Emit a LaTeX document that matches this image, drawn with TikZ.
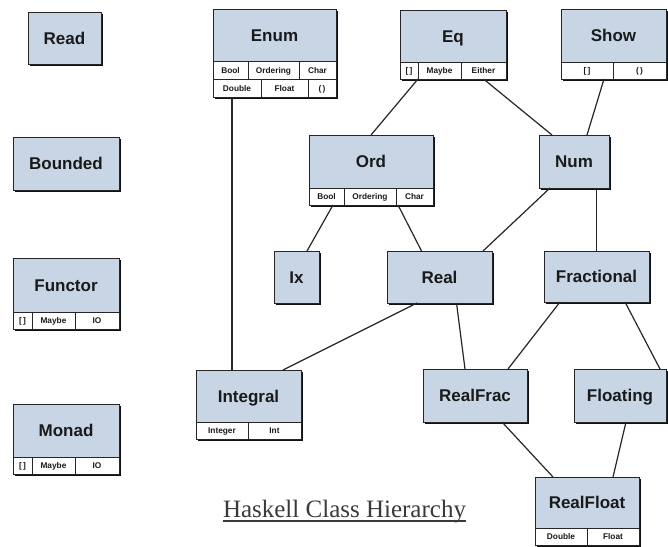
\documentclass[tikz,border=0pt]{standalone}
\usepackage{fontspec}
\setsansfont{Liberation Sans}
\setmainfont{Liberation Serif}
\definecolor{boxc}{HTML}{C8D5E5}
\definecolor{linec}{HTML}{262626}
\definecolor{shadc}{HTML}{111111}
\definecolor{txtc}{HTML}{1A1A1A}
\definecolor{titc}{HTML}{3A3A3A}
\tikzset{
  cls/.style={draw=linec, fill=boxc, line width=0.8pt, inner sep=0pt, outer sep=0pt,
    text height=12.2pt, text depth=0pt,
    font=\fontsize{17}{19}\selectfont\sffamily\bfseries, text=txtc},
  sub/.style={draw=linec, fill=white, line width=0.8pt, inner sep=0pt, outer sep=0pt,
    text height=6pt, text depth=0pt,
    font=\fontsize{8.3}{9}\selectfont\sffamily\bfseries, text=txtc},
  conn/.style={draw=linec, line width=1.2pt},
}
\newcommand\boxshadow[4]{\fill[shadc] ({#1+2},{#2+2}) rectangle ({#3+2},{#4+2});}
\newcommand\clsbox[7]{%
  \node[#1, minimum width={(#5-#3)*1pt}, minimum height={(#6-#4)*1pt}] (#2) at ({(#3+#5)/2},{(#4+#6)/2}) {#7};}
\begin{document}
\begin{tikzpicture}[x=1pt,y=-1pt]
\useasboundingbox (0,0) rectangle (668,546);
\fill[white] (0,0) rectangle (668,546);
% shadows
\boxshadow{28}{12}{101}{64}
\boxshadow{13}{137}{119}{190}
\boxshadow{13}{258}{119}{329}
\boxshadow{13}{404}{119}{474}
\boxshadow{213}{9}{336}{97}
\boxshadow{400}{10}{506}{79}
\boxshadow{561}{9}{666}{79}
\boxshadow{309}{135}{433}{205}
\boxshadow{539}{135}{609}{188}
\boxshadow{274}{251}{319}{303}
\boxshadow{387}{251}{492}{303}
\boxshadow{544}{251}{649}{302}
\boxshadow{196}{370}{301}{439}
\boxshadow{423}{369}{527}{422}
\boxshadow{574}{369}{666}{422}
\boxshadow{535}{477}{639}{545}
% boxes
\clsbox{cls}{read}{28}{12}{101}{64}{Read}
\clsbox{cls}{bounded}{13}{137}{119}{190}{Bounded}
\clsbox{cls}{functor}{13}{258}{119}{312}{Functor}
\clsbox{sub}{functorA}{13}{312}{32}{329}{[\,]}
\clsbox{sub}{functorB}{32}{312}{75}{329}{Maybe}
\clsbox{sub}{functorC}{75}{312}{119}{329}{IO}
\clsbox{cls}{monad}{13}{404}{119}{457}{Monad}
\clsbox{sub}{monadA}{13}{457}{32}{474}{[\,]}
\clsbox{sub}{monadB}{32}{457}{75}{474}{Maybe}
\clsbox{sub}{monadC}{75}{457}{119}{474}{IO}
\clsbox{cls}{enum}{213}{9}{336}{61}{Enum}
\clsbox{sub}{enumA}{213}{61}{248}{79}{Bool}
\clsbox{sub}{enumB}{248}{61}{299}{79}{Ordering}
\clsbox{sub}{enumC}{299}{61}{336}{79}{Char}
\clsbox{sub}{enumD}{213}{79}{261}{97}{Double}
\clsbox{sub}{enumE}{261}{79}{308}{97}{Float}
\clsbox{sub}{enumF}{308}{79}{336}{97}{(\,)}
\clsbox{cls}{eq}{400}{10}{506}{62}{Eq}
\clsbox{sub}{eqA}{400}{62}{418}{79}{[\,]}
\clsbox{sub}{eqB}{418}{62}{461}{79}{Maybe}
\clsbox{sub}{eqC}{461}{62}{506}{79}{Either}
\clsbox{cls}{show}{561}{9}{666}{62}{Show}
\clsbox{sub}{showA}{561}{62}{613}{79}{[\,]}
\clsbox{sub}{showB}{613}{62}{666}{79}{(\,)}
\clsbox{cls}{ord}{309}{135}{433}{188}{Ord}
\clsbox{sub}{ordA}{309}{188}{344}{205}{Bool}
\clsbox{sub}{ordB}{344}{188}{396}{205}{Ordering}
\clsbox{sub}{ordC}{396}{188}{433}{205}{Char}
\clsbox{cls}{num}{539}{135}{609}{188}{Num}
\clsbox{cls}{ix}{274}{251}{319}{303}{Ix}
\clsbox{cls}{real}{387}{251}{492}{303}{Real}
\clsbox{cls}{frac}{544}{251}{649}{302}{Fractional}
\clsbox{cls}{integral}{196}{370}{301}{422}{Integral}
\clsbox{sub}{integralA}{196}{422}{248}{439}{Integer}
\clsbox{sub}{integralB}{248}{422}{301}{439}{Int}
\clsbox{cls}{realfrac}{423}{369}{527}{422}{RealFrac}
\clsbox{cls}{floating}{574}{369}{666}{422}{Floating}
\clsbox{cls}{realfloat}{535}{477}{639}{528}{RealFloat}
\clsbox{sub}{realfloatA}{535}{528}{587}{545}{Double}
\clsbox{sub}{realfloatB}{587}{528}{639}{545}{Float}
% connectors
\draw[conn] ([xshift=-5pt]enumD.south) -- ([xshift=-5pt]enumD.south |- integral.north);
\draw[conn] (eqA.south east) -- (ord.north);
\draw[conn] (eqC.south) -- ([xshift=13pt]num.north west);
\draw[conn] ([xshift=-9pt]showA.south east) -- ([xshift=13pt]num.north);
\draw[conn] ([xshift=-11pt]ordA.south east) -- ([xshift=-12pt]ix.north east);
\draw[conn] ([xshift=2pt]ordC.south west) -- ([xshift=-18pt]real.north);
\draw[conn] ([xshift=11pt]num.south west) -- ([xshift=-9pt]real.north east);
\draw[conn] (frac.north |- num.south) -- (frac.north);
\draw[conn] ([xshift=30pt]real.south west) -- ([xshift=-18pt]integral.north east);
\draw[conn] ([xshift=17pt]real.south) -- ([xshift=-10pt]realfrac.north);
\draw[conn] ([xshift=16pt]frac.south west) -- ([xshift=-19pt]realfrac.north east);
\draw[conn] ([xshift=-24pt]frac.south east) -- ([xshift=-6pt]floating.north east);
\draw[conn] ([xshift=-25pt]realfrac.south east) -- ([xshift=18pt]realfloat.north west);
\draw[conn] ([xshift=6pt]floating.south) -- ([xshift=-26pt]realfloat.north east);
% title
\node[anchor=base, inner sep=0pt, font=\fontsize{25}{28}\selectfont\rmfamily, text=titc] (title) at (344.5,517) {Haskell Class Hierarchy};
\draw[draw=titc, line width=1.1pt] ([yshift=-4pt]title.base west) -- ([yshift=-4pt]title.base east);
\end{tikzpicture}
\end{document}
